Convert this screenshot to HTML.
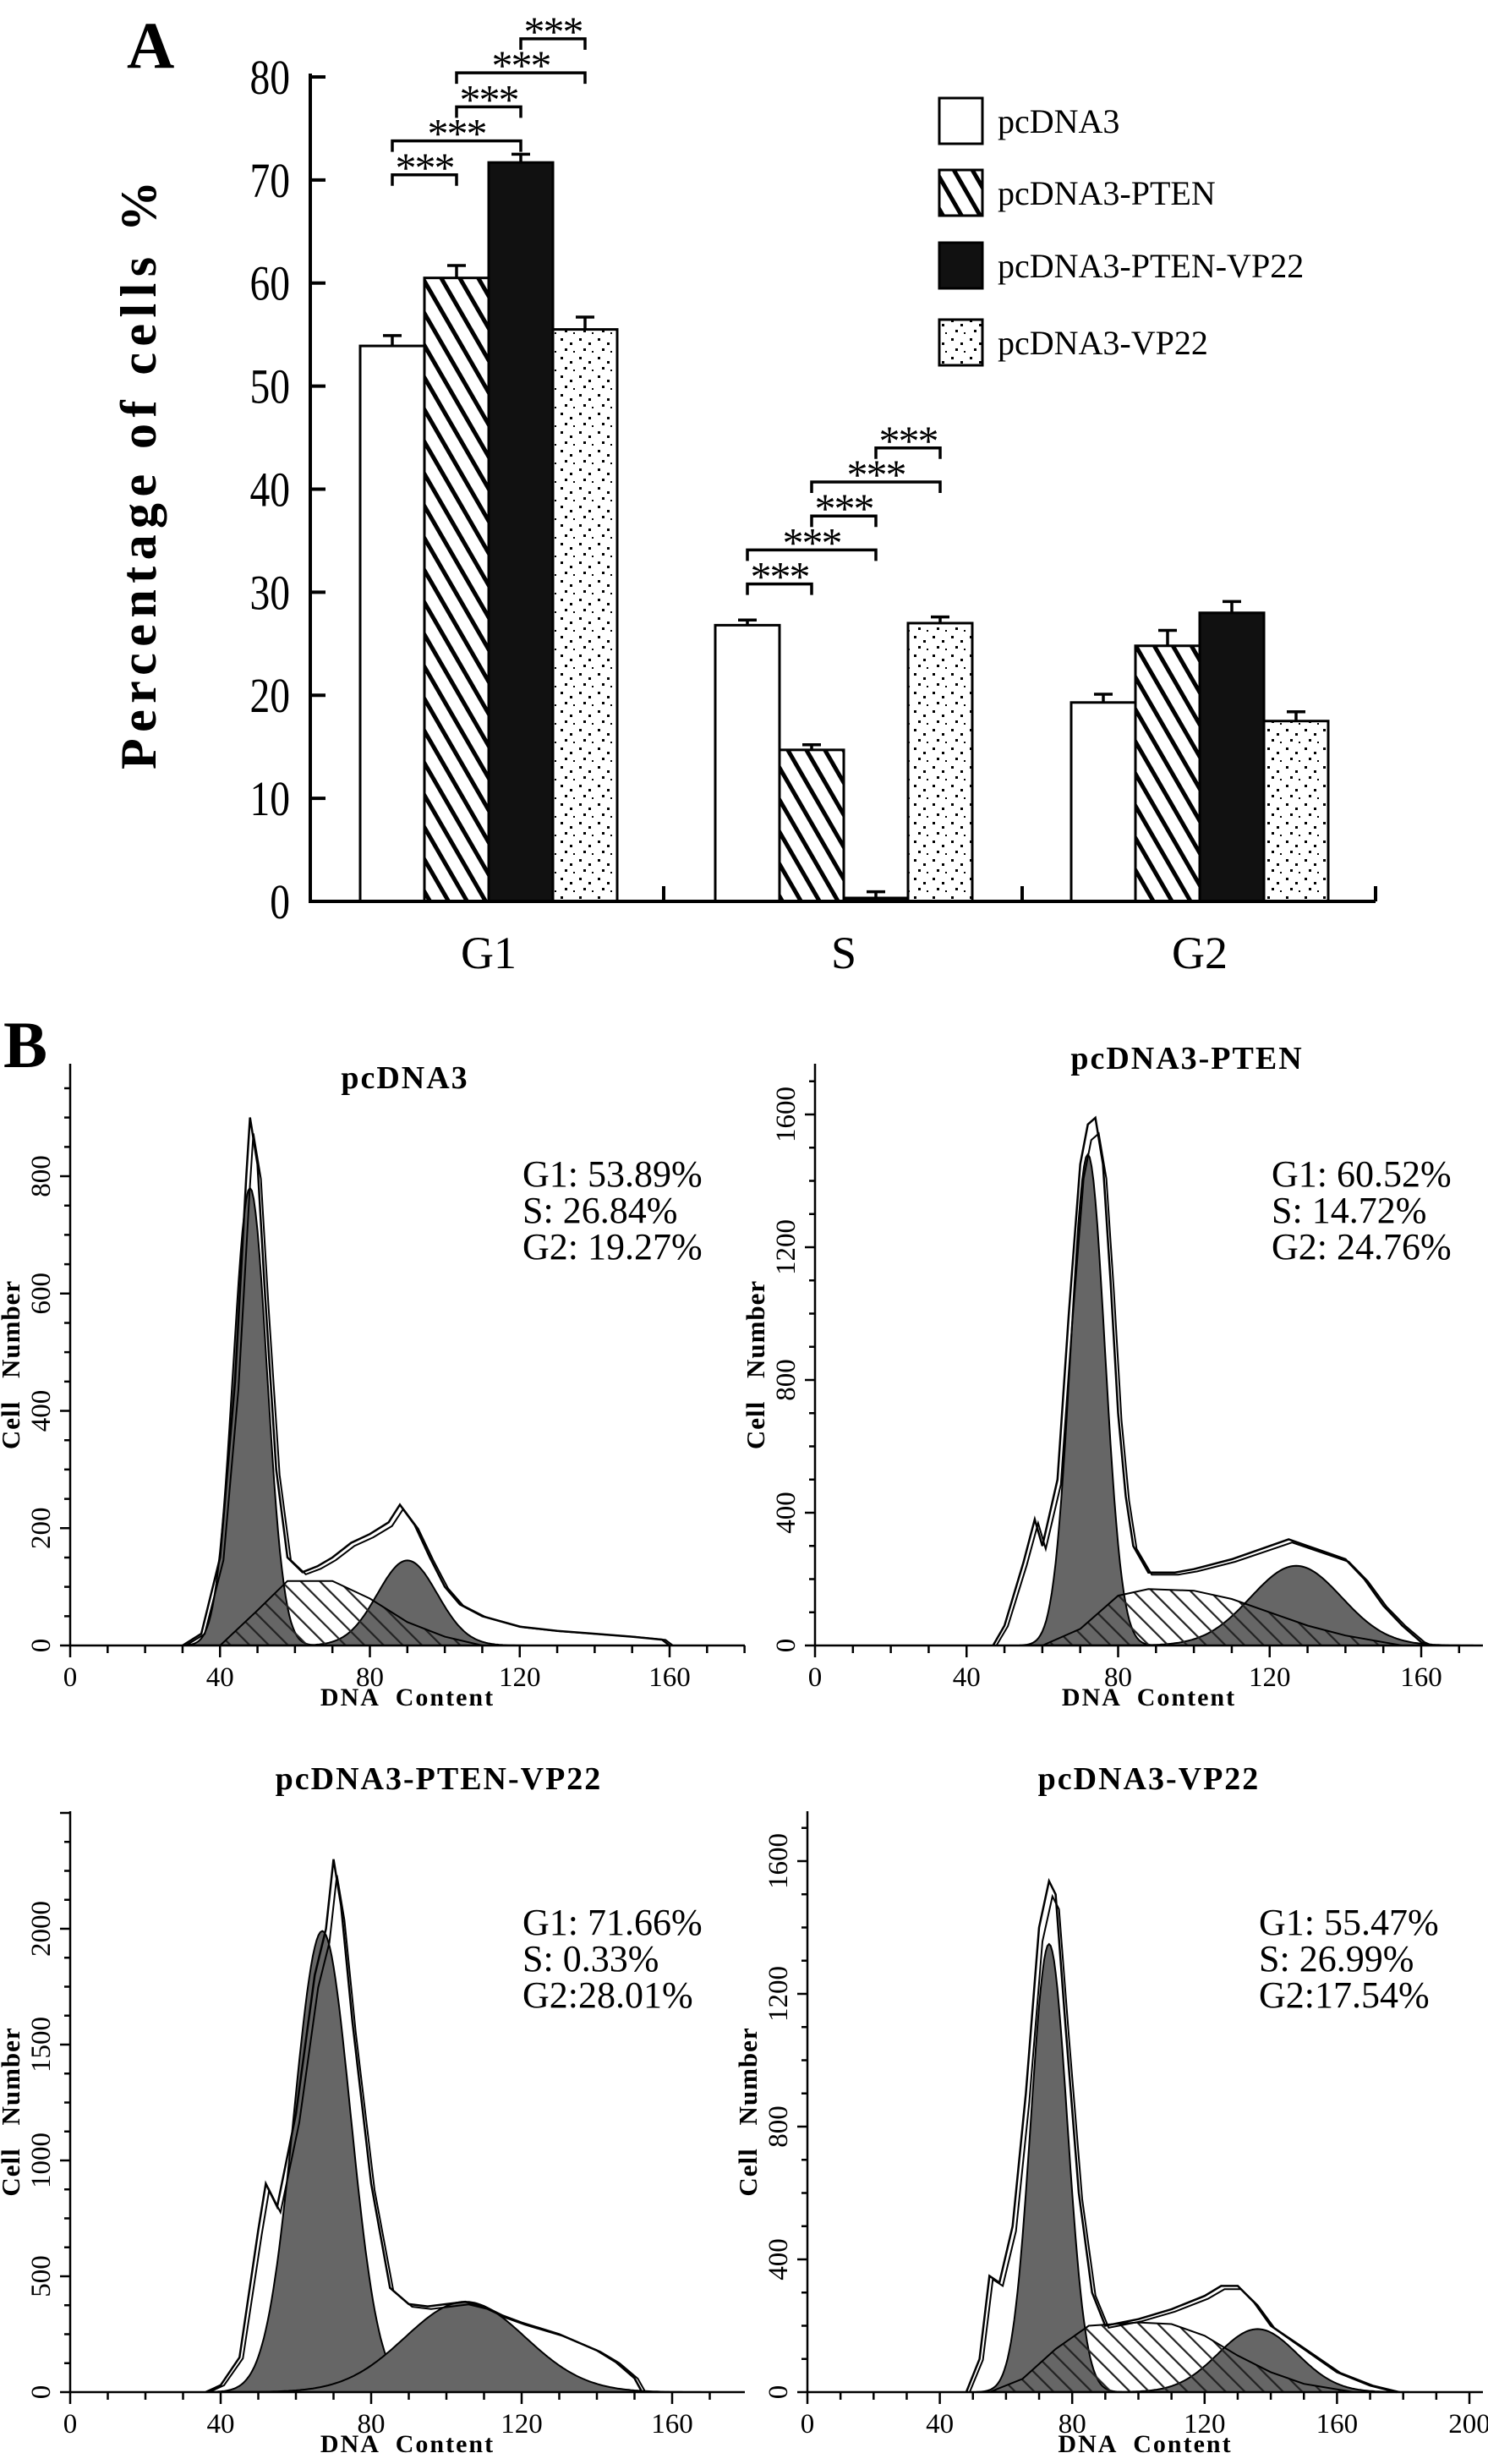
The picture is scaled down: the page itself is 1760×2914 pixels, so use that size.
<!DOCTYPE html>
<html><head><meta charset="utf-8">
<style>
html,body{margin:0;padding:0;background:#fff;}
svg{display:block;}
text{font-family:"Liberation Serif",serif;fill:#000;}
</style></head>
<body>
<svg id="fig" width="1760" height="2914" viewBox="0 0 1760 2914" xmlns="http://www.w3.org/2000/svg">
<defs>
<pattern id="hatch" patternUnits="userSpaceOnUse" width="19" height="19" patternTransform="rotate(-30)">
<rect width="19" height="19" fill="#fff"/><rect x="0" y="0" width="5" height="19" fill="#000"/>
</pattern>
<pattern id="dots" patternUnits="userSpaceOnUse" width="22" height="22">
<rect width="22" height="22" fill="#fff"/>
<rect x="3" y="4" width="3" height="3" fill="#000"/><rect x="14" y="9" width="3" height="3" fill="#000"/>
<rect x="8" y="16" width="3" height="3" fill="#000"/><rect x="18" y="19" width="2" height="2" fill="#000"/>
</pattern>
<pattern id="shatch" patternUnits="userSpaceOnUse" width="16" height="16" patternTransform="rotate(-45)">
<rect x="0" y="0" width="2.2" height="16" fill="#222"/>
</pattern>
</defs>
<g id="panelA"></g>
<g id="panelB"></g>
</svg>
<script>
// ---------- Panel A data ----------
const groups = ["G1", "S", "G2"];
const seriesNames = ["pcDNA3", "pcDNA3-PTEN", "pcDNA3-PTEN-VP22", "pcDNA3-VP22"];
const valPcDNA3 = [53.9, 26.8, 19.3];
const valPTEN = [60.5, 14.7, 24.8];
const valPTENVP22 = [71.7, 0.33, 28.0];
const valVP22 = [55.5, 27.0, 17.5];
const errPcDNA3 = [1.0, 0.5, 0.8];
const errPTEN = [1.2, 0.5, 1.5];
const errPTENVP22 = [0.8, 0.6, 1.1];
const errVP22 = [1.2, 0.6, 0.9];
const yTicks = [0, 10, 20, 30, 40, 50, 60, 70, 80];
// significance pairs: [group, barA, barB, level]
const sigPairs = [[0,0,1,0],[0,0,2,1],[0,1,2,2],[0,1,3,3],[0,2,3,4],
                  [1,0,1,0],[1,0,2,1],[1,1,2,2],[1,1,3,3],[1,2,3,4]];
const sigBase = [70.5, 30.8, 56];   // bracket height of lowest level per group (data units)
const sigLabels = ["***","***","***","***","***","***","***","***","***","***"];

// ---------- Panel B data ----------
const histTitles = ["pcDNA3", "pcDNA3-PTEN", "pcDNA3-PTEN-VP22", "pcDNA3-VP22"];
const histStats = [["G1: 53.89%","S: 26.84%","G2: 19.27%"],["G1: 60.52%","S: 14.72%","G2: 24.76%"],
                   ["G1: 71.66%","S: 0.33%","G2:28.01%"],["G1:  55.47%","S: 26.99%","G2:17.54%"]];
const histYTicks = [[0,200,400,600,800],[0,400,800,1200,1600],[0,500,1000,1500,2000],[0,400,800,1200,1600]];
const histXTicks = [[0,40,80,120,160],[0,40,80,120,160],[0,40,80,120,160],[0,40,80,120,160,200]];
const outline1 = [[30,0],[35,20],[40,150],[44,450],[47,800],[48,900],[50,820],[52,600],[55,300],[58,150],[62,125],[66,135],[70,150],[75,175],[80,190],[85,210],[88,240],[92,205],[96,150],[100,100],[104,70],[110,50],[120,32],[130,25],[140,20],[150,15],[158,10],[160,0]];
const outline2 = [[47,0],[50,60],[55,250],[58,380],[60,300],[64,500],[67,1000],[70,1450],[72,1570],[74,1590],[76,1450],[78,1100],[80,700],[82,450],[84,300],[88,220],[95,220],[100,230],[110,260],[120,300],[125,320],[130,300],[135,280],[140,260],[145,200],[150,120],[155,60],[160,10],[162,0]];
const outline3 = [[36,0],[40,30],[45,150],[50,700],[52,900],[55,800],[60,1200],[65,1800],[68,2000],[70,2300],[72,2100],[75,1600],[80,900],[85,450],[90,380],[95,370],[100,380],[105,390],[110,370],[115,330],[120,300],[130,250],[140,180],[145,130],[150,60],[152,0]];
const outline4 = [[48,0],[52,100],[55,350],[58,330],[62,500],[66,900],[70,1400],[73,1540],[75,1500],[78,1100],[82,600],[86,300],[90,200],[100,220],[110,250],[120,290],[125,320],[130,320],[135,270],[140,200],[150,130],[160,60],[170,20],[178,0]];
const sPhase1 = [[40,0],[50,60],[58,110],[70,110],[80,80],[90,40],[100,15],[110,0]];
const sPhase2 = [[60,0],[70,50],[80,150],[88,170],[100,165],[110,140],[120,100],[130,60],[140,30],[155,0]];
const sPhase3 = [[60,0],[100,0]];
const sPhase4 = [[55,0],[65,40],[75,130],[85,200],[100,210],[110,205],[120,170],[130,110],[140,60],[150,25],[165,0]];
// fitted peaks: [mean, height, sd]
const g1Fit = [[48,780,4.5],[72,1480,4.5],[67,1990,7.5],[73,1350,5.5]];
const g2Fit = [[90,145,8],[127,240,12],[105,390,16],[136,190,12]];

const NS="http://www.w3.org/2000/svg";
function mk(tag, attrs, parent){const e=document.createElementNS(NS,tag);for(const k in attrs)e.setAttribute(k,attrs[k]);parent.appendChild(e);return e;}

// ---------- Panel A ----------
(function(){
  const A=document.getElementById('panelA');
  const x0=367, xEnd=1627, yZero=1066, yTop=91;
  const yS=v=>yZero-(v/80)*(yZero-yTop);
  const groupStart=[426,846,1267], bw=76;
  const barX=(g,i)=>groupStart[g]+i*bw;
  const fills=["#fff","url(#hatch)","#111","url(#dots)"];
  const vals=[valPcDNA3,valPTEN,valPTENVP22,valVP22];
  const errs=[errPcDNA3,errPTEN,errPTENVP22,errVP22];
  let t=mk('text',{x:150,y:80,'font-size':78,'font-weight':'bold'},A);t.textContent="A";
  
  for(let g=0;g<groups.length;g++){
    for(let i=0;i<4;i++){
      const v=vals[i][g], e=errs[i][g], x=barX(g,i);
      const r=mk('rect',{x:x,y:yS(v),width:bw,height:yZero-yS(v),fill:fills[i],stroke:'#000','stroke-width':3},A);
      
      
      const eb=mk('path',{d:`M${x+bw/2},${yS(v)} V${yS(v+e)} M${x+bw/2-11},${yS(v+e)} H${x+bw/2+11}`,stroke:'#000','stroke-width':3.5,fill:'none'},A);
      
      
    }
  }
  const ax=mk('path',{d:`M${x0},${yTop-4} V${yZero} H${xEnd} M${785},${yZero} V${yZero-18} M${1209},${yZero} V${yZero-18} M${xEnd},${yZero} V${yZero-18}`,stroke:'#000','stroke-width':4,fill:'none'},A);
  
  yTicks.forEach(v=>{
    mk('path',{d:`M${x0},${yS(v)} H${x0+18}`,stroke:'#000','stroke-width':4},A);
    const tl=mk('text',{x:x0-24,y:yS(v)+20,'font-size':58,'text-anchor':'end'},A);
    tl.setAttribute('transform',`translate(${(x0-24)*0.18},0) scale(0.82,1)`);
    tl.textContent=v;
    
  });
  groups.forEach((g,i)=>{
    const tx=mk('text',{x:groupStart[i]+2*bw,y:1145,'font-size':54,'text-anchor':'middle'},A);
    tx.textContent=g;
  });
  const yt=mk('text',{x:0,y:0,'font-size':60,'font-weight':'bold','text-anchor':'middle','textLength':696,'lengthAdjust':'spacing',transform:'translate(184,562) rotate(-90)'},A);
  yt.textContent="Percentage of cells %";
  
  sigPairs.forEach((p,k)=>{
    const [g,a,b,lvl]=p;
    const xa=barX(g,a)+bw/2, xb=barX(g,b)+bw/2, yy=yS(sigBase[g]+lvl*3.3);
    const br=mk('path',{d:`M${xa},${yy+13} V${yy} H${xb} V${yy+13}`,stroke:'#000','stroke-width':3.5,fill:'none'},A);
    
    const st=mk('text',{x:(xa+xb)/2,y:yy+8,'font-size':50,'text-anchor':'middle','letter-spacing':-2},A);
    st.textContent=sigLabels[k];
  });
  const ly=[116,201,287,378];
  seriesNames.forEach((n,i)=>{
    const r=mk('rect',{x:1111,y:ly[i],width:51,height:54,fill:fills[i],stroke:'#000','stroke-width':3},A);
    
    const tx=mk('text',{x:1180,y:ly[i]+41,'font-size':40},A);
    tx.textContent=n;
  });
})();

// ---------- Panel B ----------
(function(){
  const B=document.getElementById('panelB');
  let t=mk('text',{x:4,y:1262,'font-size':78,'font-weight':'bold'},B);t.textContent="B";
  
  const outlines=[outline1,outline2,outline3,outline4];
  const sph=[sPhase1,sPhase2,sPhase3,sPhase4];
  const layout=[
    {x0:83,xMax:160,xPx:792,xEnd:881,y0:1946,yRef:800,yRefPx:1391,yTop:1258,titleX:479,titleY:1287,statX:618,statY:1403,dnaY:2017},
    {x0:964,xMax:160,xPx:1681,xEnd:1754,y0:1946,yRef:1600,yRefPx:1318,yTop:1258,titleX:1404,titleY:1264,statX:1504,statY:1403,dnaY:2017},
    {x0:83,xMax:160,xPx:795,xEnd:881,y0:2829,yRef:2000,yRefPx:2281,yTop:2142,titleX:519,titleY:2116,statX:618,statY:2288,dnaY:2900},
    {x0:955,xMax:200,xPx:1738,xEnd:1754,y0:2829,yRef:1600,yRefPx:2201,yTop:2142,titleX:1359,titleY:2116,statX:1489,statY:2288,dnaY:2900}];
  layout.forEach((L,p)=>{
    const g=mk('g',{},B);
    
    
    const xs=v=>L.x0+v/L.xMax*(L.xPx-L.x0);
    const ys=v=>L.y0-v/L.yRef*(L.y0-L.yRefPx);
    const gauss=f=>{const pts=[];for(let x=f[0]-4*f[2];x<=f[0]+4*f[2];x+=0.5){pts.push([x,f[1]*Math.exp(-0.5*((x-f[0])/f[2])**2)]);}return pts;};
    const poly=pts=>'M'+pts.map(q=>xs(q[0]).toFixed(1)+','+ys(q[1]).toFixed(1)).join(' L')+' Z';
    const c1=mk('path',{d:poly(gauss(g1Fit[p])),fill:'#666',stroke:'#000','stroke-width':2},g);
    
    const c2=mk('path',{d:poly(gauss(g2Fit[p])),fill:'#666',stroke:'#000','stroke-width':2},g);
    
    const s=mk('path',{d:poly(sph[p]),fill:'url(#shatch)',stroke:'#000','stroke-width':2},g);
    
    const o=outlines[p];
    const ol=mk('path',{d:'M'+o.map(q=>xs(q[0]).toFixed(1)+','+ys(q[1]).toFixed(1)).join(' L'),fill:'none',stroke:'#000','stroke-width':2.5},g);
    
    const ol2=mk('path',{d:'M'+o.map(q=>(xs(q[0])+4).toFixed(1)+','+ys(q[1]*0.97).toFixed(1)).join(' L'),fill:'none',stroke:'#000','stroke-width':2},g);
    
    let d=`M${L.x0},${L.yTop} V${L.y0} H${L.xEnd}`;
    for(let v=0;v*10<=(L.xEnd-L.x0)/(L.xPx-L.x0)*L.xMax;v++){const X=xs(v*10);d+=` M${X},${L.y0} V${L.y0+(v%4==0?14:9)}`;}
    const yStep=L.yRef/16;
    for(let v=0;ys(v*yStep)>=L.yTop;v++){d+=` M${L.x0},${ys(v*yStep)} H${L.x0-(v%4==0?12:7)}`;}
    const ax=mk('path',{d:d,stroke:'#000','stroke-width':2.5,fill:'none'},g);
    
    histXTicks[p].forEach(v=>{
      const tx=mk('text',{x:xs(v),y:L.y0+48,'font-size':33,'text-anchor':'middle'},g);
      tx.textContent=v;
    });
    histYTicks[p].forEach(v=>{
      const tx=mk('text',{x:0,y:0,'font-size':33,'text-anchor':'middle',transform:`translate(${L.x0-24},${ys(v)}) rotate(-90)`},g);
      tx.textContent=v;
    });
    const ti=mk('text',{x:L.titleX,y:L.titleY,'font-size':38,'font-weight':'bold','text-anchor':'middle','letter-spacing':2},g);
    ti.textContent=histTitles[p];
    histStats[p].forEach((s2,k)=>{
      const tx=mk('text',{x:L.statX,y:L.statY+k*43,'font-size':44},g);
      tx.textContent=s2;
    });
    const xl=mk('text',{x:(L.x0+L.xEnd)/2,y:L.dnaY,'font-size':30,'font-weight':'bold','text-anchor':'middle','word-spacing':10,'letter-spacing':2},g);
    xl.textContent="DNA Content";
    const yl=mk('text',{x:0,y:0,'font-size':31,'font-weight':'bold','text-anchor':'middle','word-spacing':18,'letter-spacing':1,transform:`translate(${L.x0-60},${(L.y0+L.yTop)/2+12}) rotate(-90)`},g);
    yl.textContent="Cell Number";
  });
})();
</script>
</body></html>
